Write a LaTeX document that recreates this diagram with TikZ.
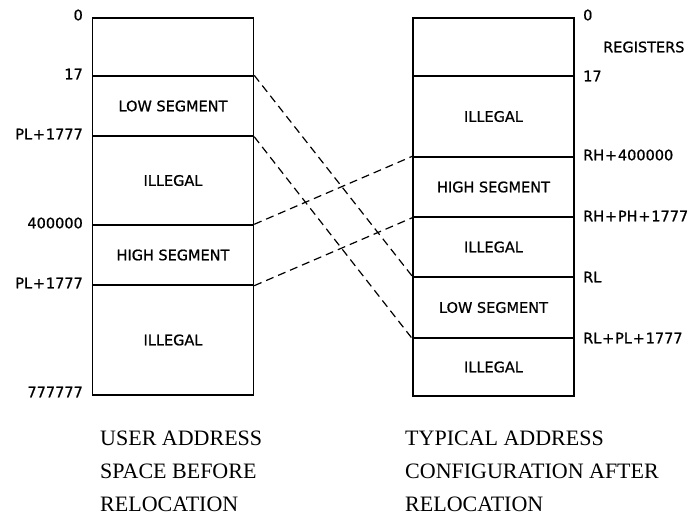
\documentclass[tikz,border=0pt]{standalone}
\usepackage{fontspec}
\setmainfont{Liberation Serif}
\newfontfamily\labfont[FakeBold=0.8]{DejaVu Sans}
\newcommand{\pl}{\kern0.8pt+\kern0.8pt}
\begin{document}
\begin{tikzpicture}[x=1pt,y=-1pt,
  seg/.style={draw,line width=1.4pt,minimum width=161pt,inner sep=0pt,font=\labfont\fontsize{14.5}{16}\selectfont},
  addr/.style={inner sep=0pt,font=\labfont\fontsize{14.5}{16}\selectfont},
  captxt/.style={inner sep=0pt,anchor=base west,font=\fontsize{22}{26}\selectfont},
  link/.style={dash pattern=on 8pt off 5pt,line width=1.2pt}]
\useasboundingbox (0,0) rectangle (689,523);
% left column
\node[seg,minimum height=58pt]  (l0) at (173,47) {};
\node[seg,minimum height=60pt]  (l1) at (173,106) {LOW SEGMENT};
\node[seg,minimum height=89pt]  (l2) at (173,180.5) {ILLEGAL};
\node[seg,minimum height=60pt]  (l3) at (173,255) {HIGH SEGMENT};
\node[seg,minimum height=110pt] (l4) at (173,340) {ILLEGAL};
% right column
\node[seg,minimum height=58pt] (r0) at (493.5,47) {};
\node[seg,minimum height=81pt] (r1) at (493.5,116.5) {ILLEGAL};
\node[seg,minimum height=60pt] (r2) at (493.5,187) {HIGH SEGMENT};
\node[seg,minimum height=60pt] (r3) at (493.5,247) {ILLEGAL};
\node[seg,minimum height=61pt] (r4) at (493.5,307.5) {LOW SEGMENT};
\node[seg,minimum height=58pt] (r5) at (493.5,367) {ILLEGAL};
% left addresses
\node[addr,anchor=east] (a0) at (83,15) {0};
\node[addr,anchor=east] (a1) at (83,74) {17};
\node[addr,anchor=east] (a2) at (83,134) {PL\pl1777};
\node[addr,anchor=east] (a3) at (83,223) {400000};
\node[addr,anchor=east] (a4) at (83,283) {PL\pl1777};
\node[addr,anchor=east] (a5) at (83,392) {777777};
% right addresses
\node[addr,anchor=west] (b0) at (583,15) {0};
\node[addr,anchor=west] (breg) at (603,47) {REGISTERS};
\node[addr,anchor=west] (b1) at (583,76) {17};
\node[addr,anchor=west] (b2) at (583,155) {RH\pl400000};
\node[addr,anchor=west] (b3) at (583,216) {RH\pl PH\pl1777};
\node[addr,anchor=west] (b4) at (583,277) {RL};
\node[addr,anchor=west] (b5) at (583,338) {RL\pl PL\pl1777};
% dashed mappings
\draw[link] (l1.north east) -- (r4.north west);
\draw[link] (l1.south east) -- (r4.south west);
\draw[link] (l3.north east) -- (r2.north west);
\draw[link] (l3.south east) -- (r2.south west);
% captions
\node[captxt] (c1) at (100,445) {USER ADDRESS};
\node[captxt] (c2) at (100,478) {SPACE BEFORE};
\node[captxt] (c3) at (100,511) {RELOCATION};
\node[captxt] (d1) at (405,445) {TYPICAL ADDRESS};
\node[captxt] (d2) at (405,478) {CONFIGURATION AFTER};
\node[captxt] (d3) at (405,511) {RELOCATION};
\end{tikzpicture}
\end{document}
